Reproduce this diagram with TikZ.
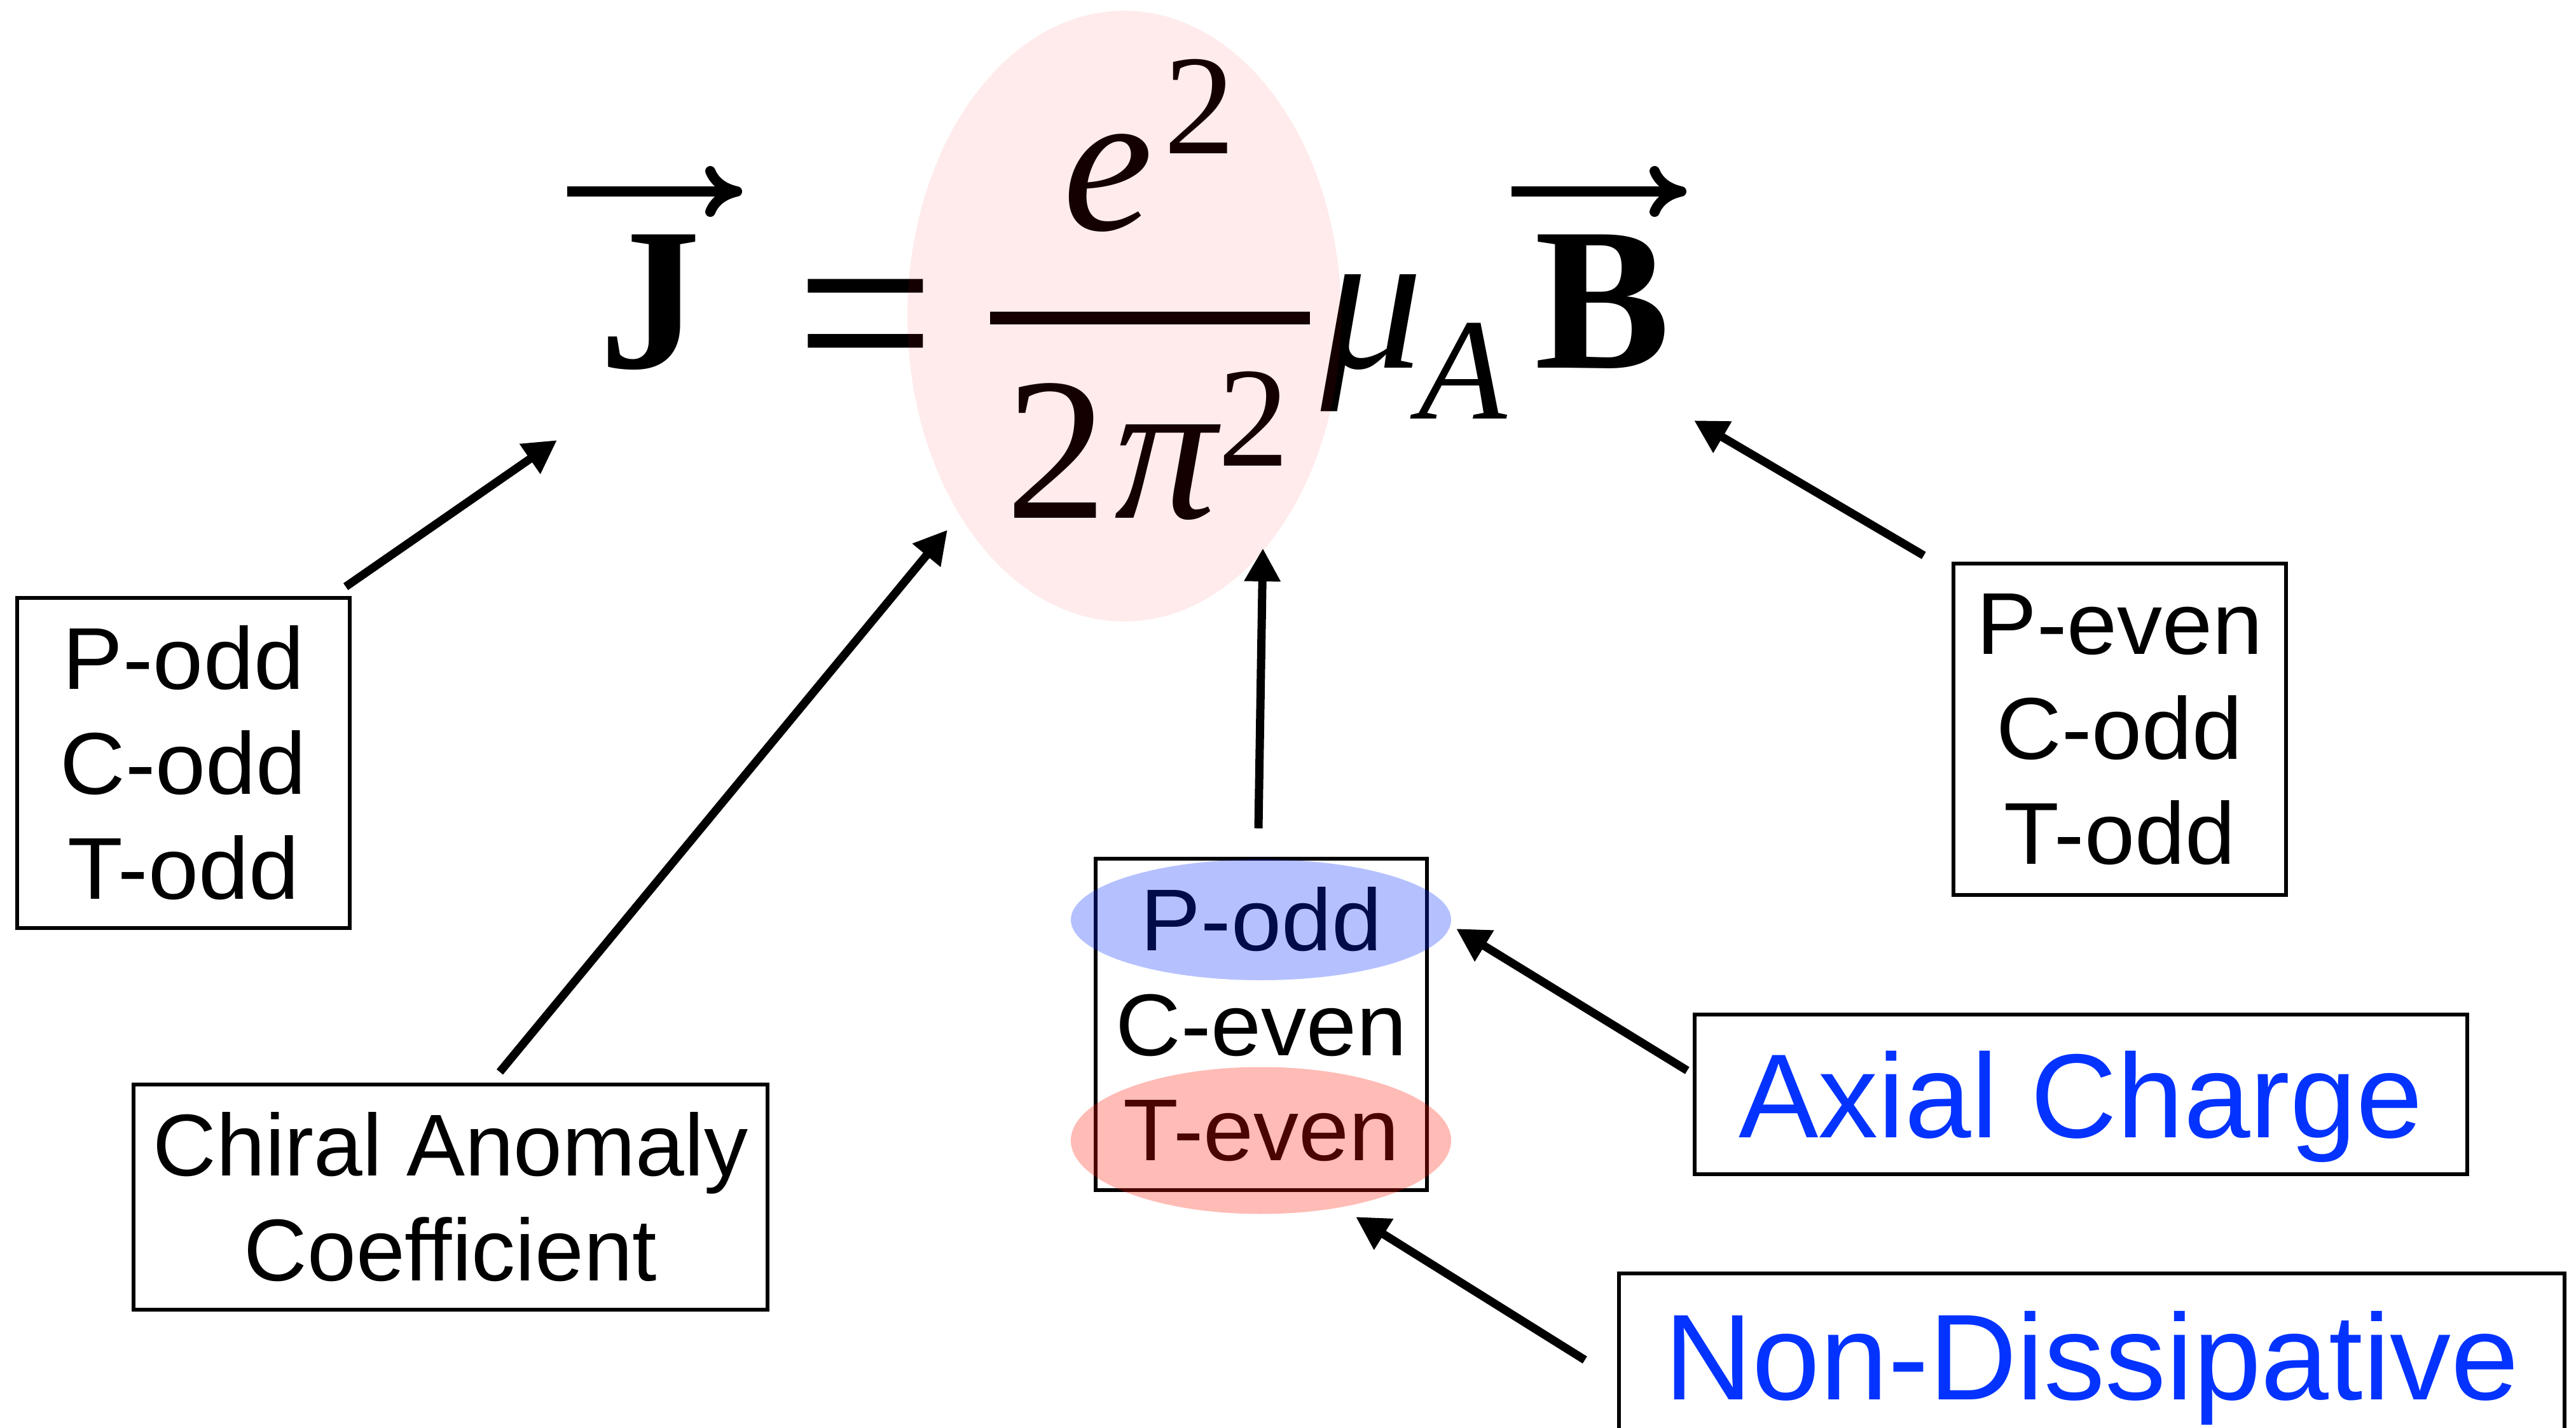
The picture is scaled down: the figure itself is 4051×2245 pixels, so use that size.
\documentclass[tikz,border=0pt]{standalone}
\usepackage{fontspec}
\setmainfont{Liberation Sans}
\newfontfamily\labfont{Liberation Sans}[FakeStretch=1.03]
\newfontfamily\eqfont{Liberation Serif}
\usetikzlibrary{arrows.meta,calc,shapes.geometric}
\definecolor{kblue}{RGB}{4,51,255}
\definecolor{ovblue}{RGB}{0,40,255}
\definecolor{ovred}{RGB}{255,20,0}
\begin{document}
\begin{tikzpicture}[x=0.25pt,y=-0.25pt,
  lab/.style={font=\labfont\fontsize{34.5}{41.25}\selectfont, align=center, draw, line width=1.35pt, inner sep=0pt},
  bigbox/.style={draw, line width=1.35pt, text=kblue, inner sep=0pt, text depth=0pt},
  conn/.style={line width=3.25pt, -{Triangle[length=13pt,width=13.5pt]}},
  vecarrow/.style={line width=4pt, -{Computer Modern Rightarrow[length=14.5pt,width=20pt]}},
  eq/.style={font=\eqfont\fontsize{80}{96}\selectfont, inner sep=0pt, anchor=base},
  eqb/.style={font=\eqfont\bfseries\fontsize{80}{96}\selectfont, inner sep=0pt, anchor=base},
  eqi/.style={font=\eqfont\itshape\fontsize{80}{96}\selectfont, inner sep=0pt, anchor=base},
  eqs/.style={font=\eqfont\fontsize{56}{67}\selectfont, inner sep=0pt, anchor=base},
  eqsi/.style={font=\eqfont\itshape\fontsize{57}{68}\selectfont, inner sep=0pt, anchor=base},
  overlay/.style={ellipse, draw=none, inner sep=0pt}]
\useasboundingbox (0,0) rectangle (4051,2245);
\clip (0,0) rectangle (4051,2245);

% equation
\node[eqb] (J) at (1022,579) {J};
\node[eq, font=\eqfont\fontsize{108}{120}\selectfont] (eqs) at (1361,637) {\scalebox{0.9}[1]{=}};
\node[fill=black, minimum width=125.75pt, minimum height=5pt, inner sep=0pt] (bar) at (1808.5,500) {};
\node[eqi] (e) at (1742,362) {e};
\node[eqs] (e2) at (1886,242) {2};
\node[eq] (two) at (1661,815) {2};
\node[eqi] (pi) at (1833,815) {π};
\node[eqs] (pi2) at (1971,733) {2};
\node[eqi] (mu) at (2158,579) {μ};
\node[eqsi] (A) at (2300,659) {A};
\node[eqb] (B) at (2520,579) {B};
\draw[vecarrow] ($(J.base)+(-130,-278)$) -- ($(J.base)+(145,-278)$);
\draw[vecarrow] ($(B.base)+(-143,-278)$) -- ($(B.base)+(132,-278)$);
\node[overlay, fill=red, fill opacity=0.08, minimum width=170.5pt, minimum height=240pt] (pink) at (1768,497) {};

% boxes
\node[lab, minimum width=130.75pt, minimum height=129.75pt] (lbox) at (288.5,1199.5) {P-odd\\C-odd\\T-odd};
\node[lab, font=\fontsize{34.5}{41.25}\selectfont, minimum width=249.25pt, minimum height=88.5pt] (chiral) at (708.5,1882) {Chiral Anomaly\\Coefficient};
\node[lab, minimum width=130.25pt, minimum height=130.25pt] (mbox) at (1983.5,1610.5) {P-odd\\C-even\\T-even};
\node[lab, minimum width=130.75pt, minimum height=130.25pt] (rbox) at (3333.5,1146.5) {P-even\\C-odd\\T-odd};
\node[overlay, fill=ovblue, fill opacity=0.29, minimum width=149.5pt, minimum height=47.5pt] (bl) at (1983,1446) {};
\node[overlay, fill=ovred, fill opacity=0.29, minimum width=149.5pt, minimum height=57.75pt] (rd) at (1983,1793) {};
\node[bigbox, font=\fontsize{47}{56}\selectfont, minimum width=303.75pt, minimum height=62.75pt] (ax) at (3272.5,1720.5) {Axial Charge};
\node[bigbox, font=\fontsize{48}{58}\selectfont, minimum width=371.75pt, minimum height=64.5pt] (nd) at (3289.5,2131) {Non-Dissipative};

% connectors
\draw[conn] ($(lbox.north east)+(-9,-15)$) -- ($(J.base)+(-146,113)$);
\draw[conn] ($(chiral.north)+(77.5,-17)$) -- ($(pink.center)+(-278,336)$);
\draw[conn] ($(mbox.north)+(-4.5,-45)$) -- ($(pink.center)+(218,365)$);
\draw[conn] ($(rbox.north west)+(-44,-10)$) -- ($(B.base)+(144,82)$);
\draw[conn] ($(ax.west)+(-9,-37.5)$) -- ($(bl.center)+(307,14)$);
\draw[conn] ($(nd.west)+(-51,7)$) -- ($(rd.center)+(149,120)$);
\end{tikzpicture}
\end{document}
